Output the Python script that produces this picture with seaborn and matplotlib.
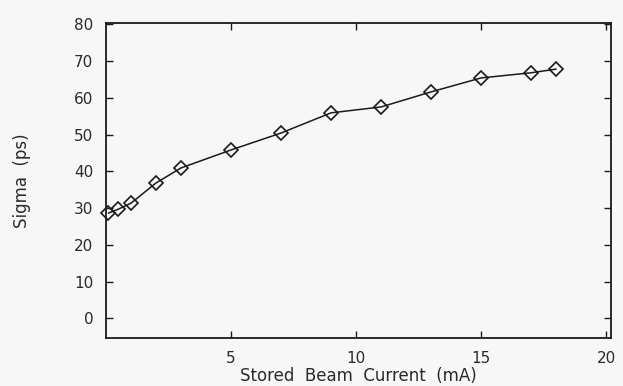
import matplotlib
matplotlib.use("Agg")
import matplotlib.pyplot as plt
import seaborn as sns
import pandas as pd

# Data
current_mA = [0.1, 0.5, 1.0, 2.0, 3.0, 5.0, 7.0, 9.0, 11.0, 13.0, 15.0, 17.0, 18.0]
sigma_ps = [28.6, 29.7, 31.3, 36.8, 40.9, 45.8, 50.4, 55.9, 57.5, 61.6, 65.4, 66.8, 67.8]
x_ticks = [5, 10, 15, 20]
y_ticks = [0, 10, 20, 30, 40, 50, 60, 70, 80]

sns.set_style("ticks")
plt.rcParams["font.family"] = ["DejaVu Sans"]

bg = "#f6f7f6"
ink = "#1a1a1a"
txt = "#2a2a2a"

df = pd.DataFrame({"current": current_mA, "sigma": sigma_ps})

fig = plt.figure(figsize=(6.23, 3.86), dpi=100, facecolor=bg)
ax = fig.add_axes([0.170, 0.124, 0.811, 0.816])
ax.set_facecolor(bg)

sns.lineplot(data=df, x="current", y="sigma", ax=ax, color=ink,
             linewidth=1.1, marker="D", markersize=7, clip_on=False,
             markerfacecolor="none", markeredgecolor=ink, markeredgewidth=1.2)

ax.set_xlim(0, 20.2)
ax.set_ylim(-5.4, 80.3)
ax.set_xticks(x_ticks)
ax.set_yticks(y_ticks)
ax.tick_params(direction="in", top=True, right=True, length=5, width=1.0,
               colors=ink, labelcolor=txt, labelsize=11, pad=9)
for s in ax.spines.values():
    s.set_color(ink)
    s.set_linewidth(1.3)

ax.set_xlabel("Stored  Beam  Current  (mA)", fontsize=12, color=txt, labelpad=1)
ax.set_ylabel("Sigma  (ps)", fontsize=12, color=txt, labelpad=31)

fig.savefig("out.png", dpi=100, facecolor=bg)
